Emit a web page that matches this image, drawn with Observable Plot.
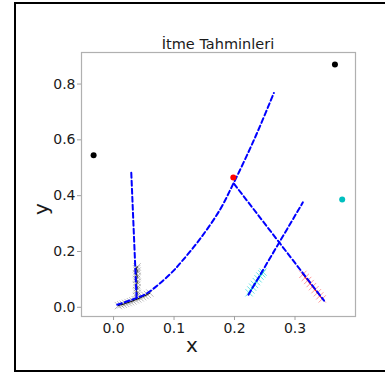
<!DOCTYPE html>
<html>
<head>
<meta charset="utf-8">
<script src="https://cdn.jsdelivr.net/npm/d3@7"></script>
<script src="https://cdn.jsdelivr.net/npm/@observablehq/plot@0.6"></script>
<style>
  html, body { margin: 0; padding: 0; background: #fff; }
  #wrap { position: relative; width: 385px; height: 374px; overflow: hidden; font-family: "DejaVu Sans", sans-serif; }
  #border { position: absolute; left: 14px; top: 2px; width: 420px; height: 370px; border: 2px solid #000; box-sizing: border-box; }
  #wrap svg { position: absolute; left: 0; top: 0; }
</style>
</head>
<body>
<div id="wrap"><div id="border"></div></div>
<script>
// ---- data ----
const title = "İtme Tahminleri";
const xLabel = "x";
const yLabel = "y";
const xTicks = [0.0, 0.1, 0.2, 0.3];
const yTicks = [0.0, 0.2, 0.4, 0.6, 0.8];

// black points
const blackX = [-0.033, 0.366];
const blackY = [0.545, 0.870];
// red point
const redX = [0.198];
const redY = [0.465];
// cyan point
const cyanX = [0.378];
const cyanY = [0.386];

// dashed curve (parabola-like)
const curveX = [0.006, 0.030, 0.055, 0.094, 0.113, 0.143, 0.176, 0.198, 0.223, 0.2425, 0.265];
const curveY = [0.009, 0.027, 0.050, 0.120, 0.165, 0.245, 0.350, 0.443, 0.556, 0.651, 0.768];
// dashed near-vertical line
const vertX = [0.0293, 0.038];
const vertY = [0.482, 0.036];
// dashed line falling right from the apex
const fallX = [0.199, 0.348];
const fallY = [0.443, 0.024];
// dashed line rising right
const riseX = [0.223, 0.313];
const riseY = [0.045, 0.376];

// grey x markers (bottom run)
const greyAX = [0.008, 0.012, 0.016, 0.020, 0.024, 0.028, 0.032, 0.036, 0.040, 0.044, 0.048, 0.052, 0.056, 0.060];
const greyAY = [0.006, 0.009, 0.011, 0.014, 0.017, 0.020, 0.023, 0.027, 0.030, 0.034, 0.038, 0.042, 0.046, 0.051];
// grey x markers (vertical stack)
const greyBX = [0.038, 0.039, 0.038, 0.039, 0.038, 0.039, 0.038, 0.039, 0.038, 0.039, 0.038, 0.039];
const greyBY = [0.040, 0.050, 0.060, 0.070, 0.080, 0.090, 0.100, 0.110, 0.120, 0.130, 0.138, 0.145];
// cyan x markers
const cyanMX = [0.224, 0.227, 0.230, 0.233, 0.236, 0.239, 0.242, 0.245, 0.247];
const cyanMY = [0.052, 0.062, 0.072, 0.082, 0.092, 0.102, 0.112, 0.120, 0.126];
// red x markers
const redMX = [0.313, 0.317, 0.321, 0.325, 0.329, 0.333, 0.337, 0.341, 0.345];
const redMY = [0.118, 0.107, 0.096, 0.085, 0.074, 0.063, 0.052, 0.041, 0.030];

const pts = (xs, ys) => xs.map((x, i) => ({x, y: ys[i]}));

const dashStyle = {x: "x", y: "y", stroke: "#0000ff", strokeWidth: 2, strokeDasharray: "5,3"};
const markStyle = (c, o) => ({x: "x", y: "y", symbol: "times", r: 3.4, stroke: c, strokeOpacity: o, strokeWidth: 1});

const chart = Plot.plot({
  width: 385,
  height: 374,
  marginLeft: 81,
  marginRight: 30,
  marginTop: 52,
  marginBottom: 58,
  style: {fontFamily: "DejaVu Sans, sans-serif", fontSize: "14px", background: "transparent"},
  x: {domain: [-0.053, 0.40], label: null},
  y: {domain: [-0.033, 0.913], label: null},
  marks: [
    Plot.frame({stroke: "#b0b0b0", strokeWidth: 1.2}),
    Plot.axisX({ticks: xTicks, tickFormat: d3.format(".1f"), tickSize: 4, tickPadding: 3, stroke: "#a0a0a0", fill: "#1a1a1a", label: null, fontSize: 14}),
    Plot.axisY({ticks: yTicks, tickFormat: d3.format(".1f"), tickSize: 4, tickPadding: 2, stroke: "#a0a0a0", fill: "#1a1a1a", label: null, fontSize: 14}),
    Plot.dot(pts(greyAX, greyAY), markStyle("#777", 0.5)),
    Plot.dot(pts(greyBX, greyBY), markStyle("#777", 0.5)),
    Plot.dot(pts(cyanMX, cyanMY), markStyle("#00d0d0", 0.6)),
    Plot.dot(pts(redMX, redMY), markStyle("#ff4444", 0.55)),
    Plot.line(pts(greyAX, greyAY), {x: "x", y: "y", stroke: "#000", strokeWidth: 1}),
    Plot.line(pts(greyBX, greyBY), {x: "x", y: "y", stroke: "#000", strokeWidth: 1}),
    Plot.line(pts(cyanMX, cyanMY), {x: "x", y: "y", stroke: "#00bfbf", strokeWidth: 1}),
    Plot.line(pts(redMX, redMY), {x: "x", y: "y", stroke: "#ff0000", strokeWidth: 1}),
    Plot.line(pts(curveX, curveY), {...dashStyle, curve: "catmull-rom"}),
    Plot.line(pts(vertX, vertY), dashStyle),
    Plot.line(pts(fallX, fallY), dashStyle),
    Plot.line(pts(riseX, riseY), dashStyle),
    Plot.dot(pts(blackX, blackY), {x: "x", y: "y", r: 3, fill: "#000"}),
    Plot.dot(pts(redX, redY), {x: "x", y: "y", r: 3, fill: "#ff0000"}),
    Plot.dot(pts(cyanX, cyanY), {x: "x", y: "y", r: 3, fill: "#00bfbf"})
  ]
});

const svg = d3.select(chart);
svg.append("text").attr("x", 218).attr("y", 48.5).attr("text-anchor", "middle")
  .attr("font-size", 14.5).attr("fill", "#1a1a1a").text(title);
svg.append("text").attr("x", 192).attr("y", 352).attr("text-anchor", "middle")
  .attr("font-size", 20).attr("fill", "#1a1a1a").text(xLabel);
svg.append("text").attr("transform", "translate(47.5,209) rotate(-90)").attr("text-anchor", "middle")
  .attr("font-size", 20).attr("fill", "#1a1a1a").text(yLabel);

document.getElementById("wrap").appendChild(chart);
</script>
</body>
</html>
